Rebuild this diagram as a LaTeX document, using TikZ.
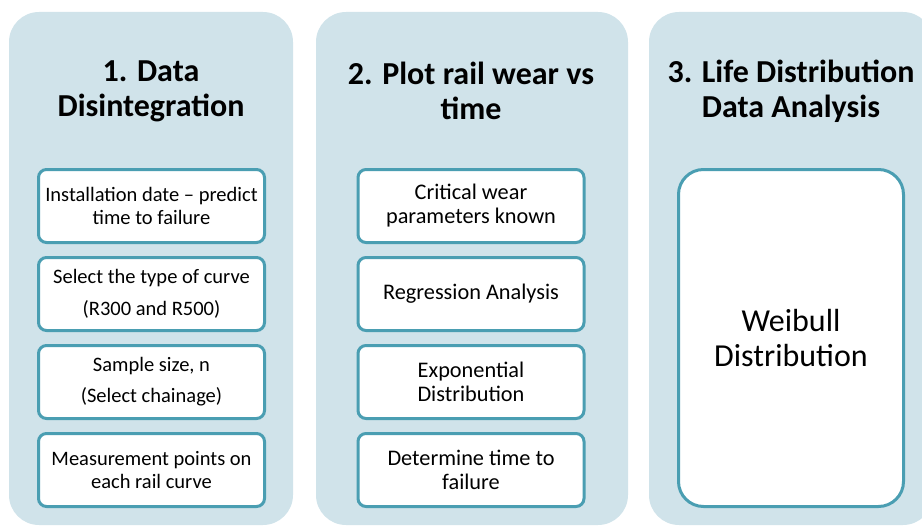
\documentclass[tikz,border=0pt]{standalone}
\usepackage{fontspec}
\setmainfont{Carlito}
\usepackage{tikz}
\usetikzlibrary{positioning}

\definecolor{panelblue}{RGB}{208,227,234}
\definecolor{boxteal}{RGB}{74,158,178}

\tikzset{
  panel/.style={fill=panelblue, rounded corners=30pt},
  heading/.style={align=center, font=\bfseries\fontsize{32}{35}\selectfont},
  stepbox/.style={draw=boxteal, line width=3pt, fill=white, rounded corners=8pt,
    minimum width=226pt, minimum height=73pt, align=center,
    font=\fontsize{20.5}{23}\selectfont},
  plotbox/.style={stepbox, font=\fontsize{22.3}{24}\selectfont},
}

\begin{document}
\begin{tikzpicture}[x=1pt,y=-1pt]
\useasboundingbox (0,0) rectangle (922,527);

% Panels
\fill[panel] (9,12) rectangle (293,525);
\fill[panel] (316,12) rectangle (628,525);
\fill[panel] (649,12) rectangle (933,525);

% Headings
\node[heading] (head1) at (151,91) {1. Data\\Disintegration};
\node[heading] (head2) at (471,91) {2. Plot rail wear vs\\time};
\node[heading] (head3) at (791,91) {3. Life Distribution\\Data Analysis};

% Data disintegration steps
\node[stepbox] (dis1) at (151.5,206) {Installation date -- predict\\time to failure};
\node[stepbox] (dis2) at (151.5,294) {Select the type of curve\\[9pt](R300 and R500)};
\node[stepbox] (dis3) at (151.5,382) {Sample size, n\\[8pt](Select chainage)};
\node[stepbox] (dis4) at (151.5,470) {Measurement points on\\each rail curve};

% Rail wear steps
\node[plotbox] (plot1) at (471,206) {Critical wear\\parameters known};
\node[plotbox] (plot2) at (471,294) {Regression Analysis};
\node[plotbox] (plot3) at (471,382) {Exponential\\Distribution};
\node[plotbox] (plot4) at (471,470) {Determine time to\\failure};

% Life distribution
\node[stepbox, rounded corners=25pt, minimum width=225pt, minimum height=337pt,
  font=\fontsize{32}{35}\selectfont] (weib) at (791,338) {Weibull\\Distribution};

\end{tikzpicture}
\end{document}
